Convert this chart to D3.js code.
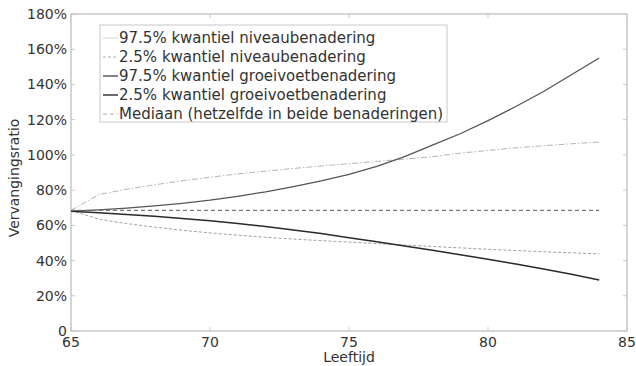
<!DOCTYPE html>
<html>
<head>
<meta charset="utf-8">
<script src="https://cdn.jsdelivr.net/npm/d3@7"></script>
<style>
  html, body { margin: 0; padding: 0; background: #fff; }
  svg text { font-family: "DejaVu Sans", Verdana, sans-serif; fill: #333; }
</style>
</head>
<body>
<svg id="chart" width="636" height="366"></svg>
<script>
// Leeftijd (age) along the x axis
const ages = [65, 66, 67, 68, 69, 70, 71, 72, 73, 74, 75, 76, 77, 78, 79, 80, 81, 82, 83, 84];

// Vervangingsratio in percent, per age
const niveau975 = [68.5, 77.5, 80.5, 83, 85.3, 87.3, 89.2, 90.8, 92.3, 93.7, 95, 96.3, 97.6, 99, 101, 102.5, 104, 105.2, 106.3, 107.3];
const niveau025 = [68.5, 63.5, 61, 59, 57.2, 55.7, 54.4, 53.2, 52.2, 51.3, 50.5, 49.6, 48.8, 48, 47.2, 46.4, 45.7, 45, 44.4, 43.8];
const groei975  = [68, 68.8, 69.8, 71, 72.5, 74.3, 76.5, 79, 82, 85.3, 89, 93.5, 99, 105.5, 112, 119.5, 127.5, 136, 145.5, 155];
const groei025  = [68, 67.2, 66.2, 65.1, 63.9, 62.6, 61.1, 59.3, 57.4, 55.3, 53, 50.7, 48.3, 45.8, 43.3, 40.7, 38, 35.2, 32.2, 29];
const mediaan   = [68.5, 68.5, 68.5, 68.5, 68.5, 68.5, 68.5, 68.5, 68.5, 68.5, 68.5, 68.5, 68.5, 68.5, 68.5, 68.5, 68.5, 68.5, 68.5, 68.5];

const seriesNames = [
  "97.5% kwantiel niveaubenadering",
  "2.5% kwantiel niveaubenadering",
  "97.5% kwantiel groeivoetbenadering",
  "2.5% kwantiel groeivoetbenadering",
  "Mediaan (hetzelfde in beide benaderingen)"
];

const xTicks = [65, 70, 75, 80, 85];
const yTicks = [0, 20, 40, 60, 80, 100, 120, 140, 160, 180];

const series = [
  { name: seriesNames[0], values: niveau975, color: "#b4b4b4", width: 1, dash: "6,2,1.5,2" },
  { name: seriesNames[1], values: niveau025, color: "#a0a0a0", width: 1, dash: "3,2" },
  { name: seriesNames[2], values: groei975,  color: "#555",    width: 1.3, dash: null },
  { name: seriesNames[3], values: groei025,  color: "#2a2a2a", width: 1.5, dash: null },
  { name: seriesNames[4], values: mediaan,   color: "#777",    width: 1.1, dash: "4,3" }
];

const svg = d3.select("#chart");
const m = { left: 71, top: 14, right: 627, bottom: 331 };

const x = d3.scaleLinear().domain([65, 85]).range([m.left, m.right]);
const y = d3.scaleLinear().domain([0, 180]).range([m.bottom, m.top]);

const axisColor = "#c8c8c8";
const tickLen = 4;

// plot box
svg.append("rect")
  .attr("x", m.left).attr("y", m.top)
  .attr("width", m.right - m.left).attr("height", m.bottom - m.top)
  .attr("fill", "none").attr("stroke", axisColor).attr("stroke-width", 1.5);

// inward tick marks on all four sides
const tickG = svg.append("g").attr("stroke", axisColor).attr("stroke-width", 1);
xTicks.forEach(t => {
  tickG.append("line").attr("x1", x(t)).attr("x2", x(t)).attr("y1", m.bottom).attr("y2", m.bottom - tickLen);
  tickG.append("line").attr("x1", x(t)).attr("x2", x(t)).attr("y1", m.top).attr("y2", m.top + tickLen);
});
yTicks.forEach(t => {
  tickG.append("line").attr("x1", m.left).attr("x2", m.left + tickLen).attr("y1", y(t)).attr("y2", y(t));
  tickG.append("line").attr("x1", m.right).attr("x2", m.right - tickLen).attr("y1", y(t)).attr("y2", y(t));
});

// tick labels
svg.append("g").selectAll("text").data(yTicks).join("text")
  .attr("x", m.left - 4).attr("y", d => y(d) + 5)
  .attr("text-anchor", "end").attr("font-size", 14)
  .text(d => d === 0 ? "0" : d + "%");

svg.append("g").selectAll("text").data(xTicks).join("text")
  .attr("x", d => x(d)).attr("y", m.bottom + 16)
  .attr("text-anchor", "middle").attr("font-size", 14)
  .text(d => d);

// axis titles
svg.append("text")
  .attr("x", (m.left + m.right) / 2).attr("y", 362)
  .attr("text-anchor", "middle").attr("font-size", 14)
  .text("Leeftijd");

svg.append("text")
  .attr("transform", "translate(19, 178) rotate(-90)")
  .attr("text-anchor", "middle").attr("font-size", 14)
  .text("Vervangingsratio");

// data lines
const line = d3.line().x((d, i) => x(ages[i])).y(d => y(d));
svg.append("g").selectAll("path").data(series).join("path")
  .attr("d", d => line(d.values))
  .attr("fill", "none")
  .attr("stroke", d => d.color)
  .attr("stroke-width", d => d.width)
  .attr("stroke-dasharray", d => d.dash);

// legend
const lg = svg.append("g");
lg.append("rect")
  .attr("x", 100).attr("y", 25).attr("width", 347).attr("height", 97)
  .attr("fill", "#fff").attr("stroke", axisColor).attr("stroke-width", 1);
const rowY = i => 38 + i * 19;
const legendColors = ["#d4d4d4", "#b0b0b0", "#666", "#444", "#aaa"];
series.forEach((s, i) => {
  lg.append("line")
    .attr("x1", 103).attr("x2", 118).attr("y1", rowY(i)).attr("y2", rowY(i))
    .attr("stroke", legendColors[i]).attr("stroke-width", i === 2 || i === 3 ? 1.6 : 1)
    .attr("stroke-dasharray", i === 0 ? null : s.dash);
  lg.append("text")
    .attr("x", 119).attr("y", rowY(i) + 5).attr("font-size", 15)
    .text(s.name);
});
</script>
</body>
</html>
